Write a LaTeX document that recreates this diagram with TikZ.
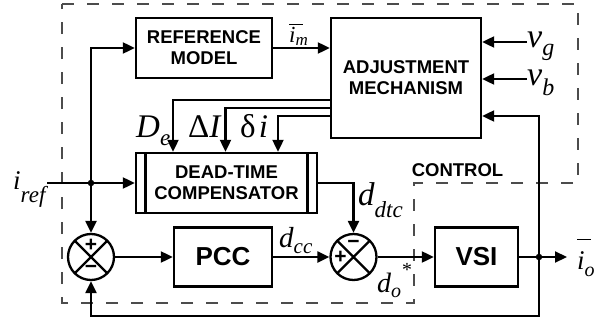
\documentclass[tikz,border=0pt]{standalone}
\usepackage{fontspec}
\setmainfont{Liberation Sans}
\newfontfamily\tnr{Liberation Serif}
\usetikzlibrary{arrows.meta}

\newcommand{\sz}[1]{\fontsize{#1}{#1}\selectfont}
% bar drawn over a symbol: raise, width
\newcommand{\topbar}[2]{\rlap{\rule[#1]{#2}{1.4pt}}}

\tikzset{
  blk/.style={draw, line width=2.4pt, inner sep=0pt, align=center,
              font=\fontsize{18.5}{21}\selectfont\bfseries},
  wire/.style={line width=2.2pt},
  arr/.style={wire, -{Triangle[length=12pt,width=11pt]}},
  sumj/.style={circle, draw, line width=2.3pt, minimum size=46pt, inner sep=0pt},
  sgn/.style={inner sep=0pt, font=\sz{21}\bfseries},
  lab/.style={inner sep=0pt, anchor=base west, font=\tnr\itshape},
  jdot/.style={circle, fill, inner sep=0pt, minimum size=6.5pt},
  frame/.style={black!70, line width=1.1pt, dash pattern=on 12pt off 13pt},
}

\begin{document}
\begin{tikzpicture}[x=1pt, y=-1pt]
\useasboundingbox (0,0) rectangle (611,324);

% control region outline
\draw[frame] (62,4) -- (578,4) -- (578,183) -- (414,183) -- (414,303) -- (62,303) -- cycle;
\node[inner sep=0pt, font=\sz{18.5}\bfseries] (ctl) at (457.5,170) {CONTROL};

% blocks
\node[blk, minimum width=136pt, minimum height=60pt] (ref) at (204,48) {REFERENCE\\MODEL};
\node[blk, minimum width=150pt, minimum height=120pt] (adj) at (406,78) {ADJUSTMENT\\MECHANISM};
\node[blk, minimum width=181pt, minimum height=60pt] (dtc) at (226.5,183) {DEAD-TIME\\COMPENSATOR};
\draw[line width=2.2pt] (145.5,153) -- (145.5,213) (307.5,153) -- (307.5,213);
\node[blk, minimum width=98pt, minimum height=59pt, font=\sz{26}\bfseries] (pcc) at (223,257) {PCC};
\node[blk, minimum width=83pt, minimum height=59pt, font=\sz{26}\bfseries] (vsi) at (476.5,257) {VSI};

% summing junctions
\node[sumj] (s1) at (91,257) {};
\node[sumj] (s2) at (353.5,257) {};
\foreach \s in {s1,s2}{
  \draw[wire] (\s.center) +(-16.3,-16.3) -- +(16.3,16.3)
              (\s.center) +(-16.3,16.3) -- +(16.3,-16.3);
}
\path (s1.center) +(0,-12) node[sgn] (s1p) {+} +(0,12) node[sgn] (s1m) {−};
\path (s2.center) +(0,-13) node[sgn] (s2m) {−} +(-13,0) node[sgn] (s2p) {+};

% junction dots and free ends
\node[jdot] (j1) at (91,183) {};
\node[jdot] (j2) at (539,257) {};
\coordinate (iin) at (47,183);
\coordinate (iout) at (567,257);
\coordinate (vgin) at (527,42);
\coordinate (vbin) at (527,79);
\coordinate (fb) at (539,316);
\coordinate (ta) at (539,116);

% signal paths
\draw[arr] (iin) -- (dtc.west);
\draw[arr] (j1.center) |- (ref.west);
\draw[arr] (j1.center) -- (s1.north);
\draw[arr] (ref.east) -- (ref.east -| adj.west);
\draw[arr] (s1.east) -- (s1.east -| pcc.west);
\draw[arr] (pcc.east) -- (s2.west);
\draw[arr] (s2.east) -- (vsi.west);
\draw[wire] (vsi.east) -- (j2.center);
\draw[arr] (j2.center) -- (iout);
\draw[arr] (j2.center) -- (fb) -| (s1.south);
\draw[arr] (j2.center) -- (ta) -- (ta -| adj.east);
\draw[arr] (vgin) -- (vgin -| adj.east);
\draw[arr] (vbin) -- (vbin -| adj.east);
\draw[arr] (dtc.east) -| (s2.north);

% adjustment outputs to the compensator
\draw[arr] (adj.west |- 0,100) -| (dtc.north -| 173,0);
\draw[arr] (adj.west |- 0,108) -| (dtc.north -| 225.5,0);
\draw[arr] (adj.west |- 0,116) -| (dtc.north -| 278,0);

% signal labels
\node[lab] (lim) at (289,42) {\sz{23}\topbar{17pt}{14pt}i\raisebox{-3pt}{\sz{17}m}};
\node[lab] (lvg) at (527,47) {\sz{34}v\raisebox{-8pt}{\sz{24}g}};
\node[lab] (lvb) at (527,85) {\sz{34}v\raisebox{-10pt}{\sz{24}b}};
\node[lab] (lde) at (136,137) {\sz{33}D\raisebox{-8pt}{\sz{23}e}};
\node[lab] (ldi) at (188,137) {\sz{33}{\upshape Δ}I};
\node[lab] (lsi) at (240,137) {\sz{33}{\upshape δ}\kern3pt i};
\node[lab] (lir) at (13,189) {\sz{27}i\raisebox{-13pt}{\sz{23}ref}};
\node[lab] (ldc) at (279,247) {\sz{29}d\raisebox{-6pt}{\sz{21}cc}};
\node[lab] (ldd) at (358,205) {\sz{33}d\raisebox{-12pt}{\sz{23}dtc}};
\node[lab] (ldo) at (377,292) {\sz{28}d\raisebox{-5pt}{\sz{20}o}\raisebox{16pt}{\sz{20}*}};
\node[lab] (lio) at (577,269) {\sz{27}\topbar{29pt}{14pt}i\raisebox{-7pt}{\sz{20}o}};
\end{tikzpicture}
\end{document}
